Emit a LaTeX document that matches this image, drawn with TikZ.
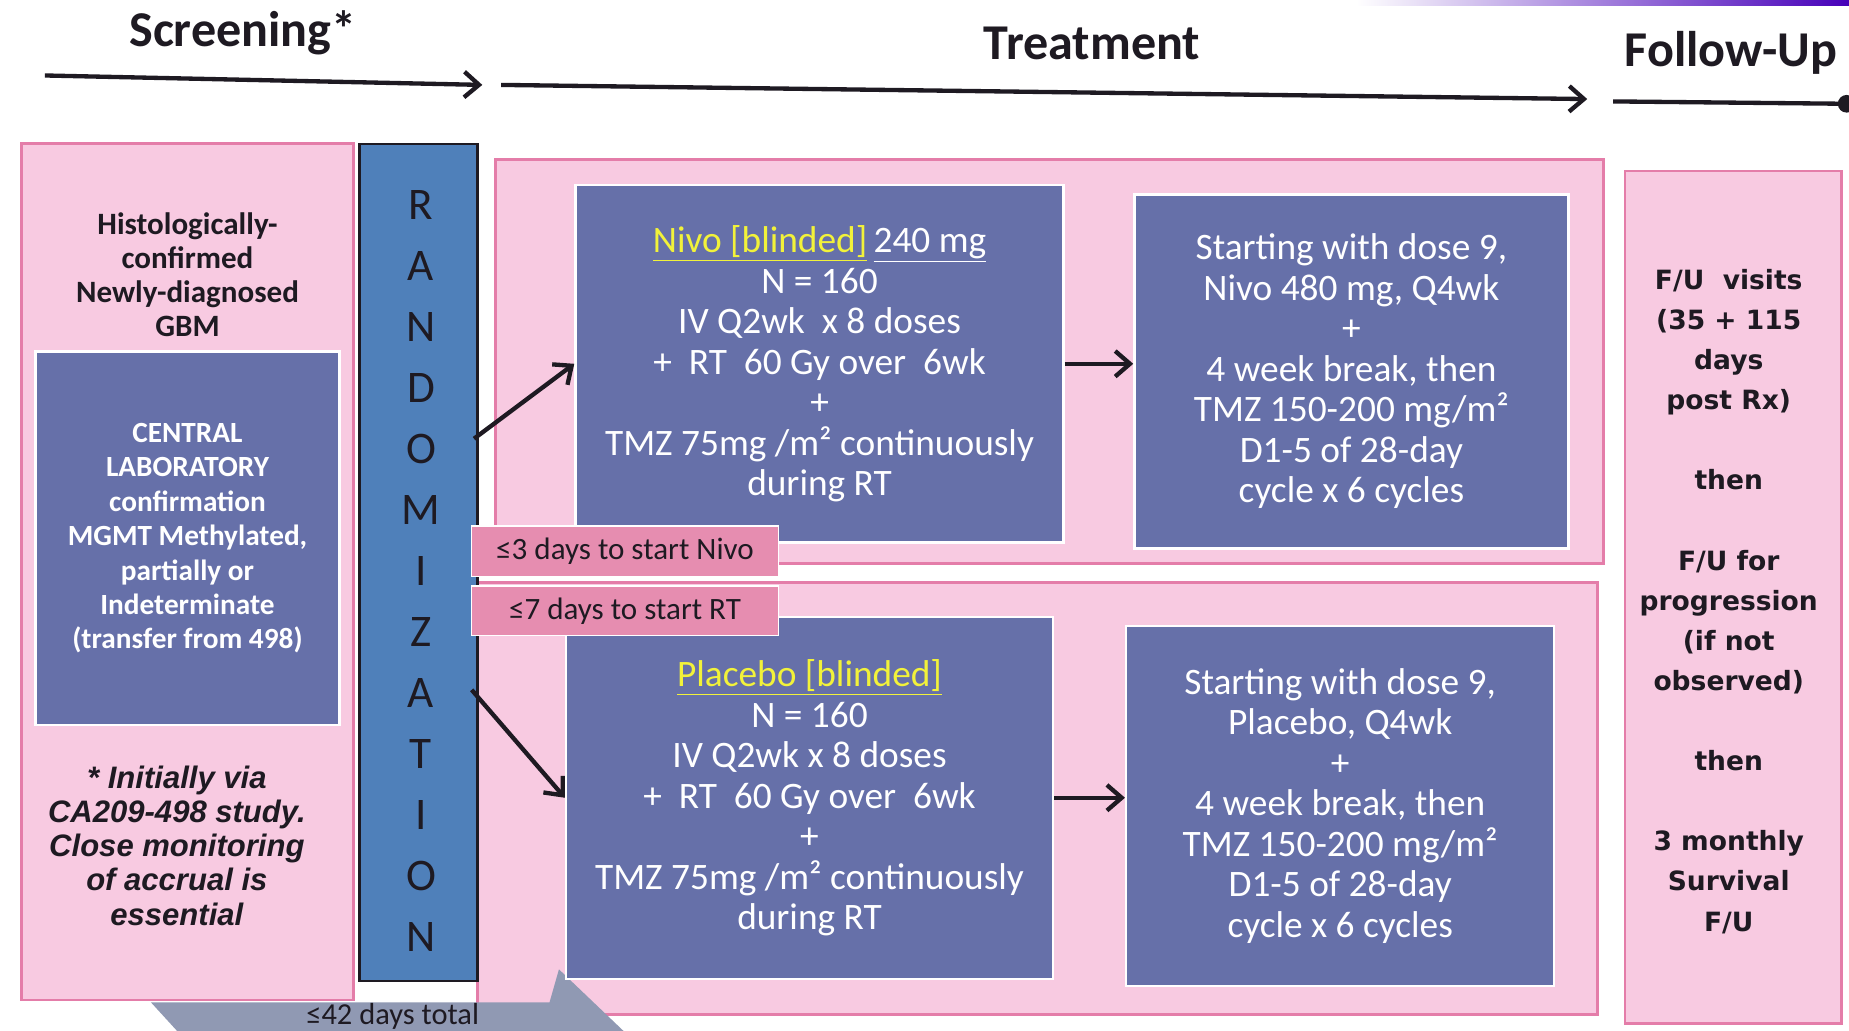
\documentclass[tikz,border=0pt]{standalone}
\usepackage{fontspec}
\setmainfont{Carlito}
\newfontfamily\fufont{DejaVu Sans}
\newfontfamily\notefont{Liberation Sans}
\usetikzlibrary{arrows.meta}
\definecolor{pinkfill}{HTML}{F8CAE1}
\definecolor{pinkline}{HTML}{E47DA9}
\definecolor{boxblue}{HTML}{6670A9}
\definecolor{randblue}{HTML}{4F80BA}
\definecolor{lblpink}{HTML}{E68DB0}
\definecolor{chevgray}{HTML}{9099B3}
\definecolor{ylw}{HTML}{F2F23A}
\definecolor{inkdark}{HTML}{1E1A22}
\begin{document}
\begin{tikzpicture}[x=0.6pt,y=-0.6pt,
  pinkbox/.style={draw=pinkline, fill=pinkfill, line width=1.5pt, rectangle, inner sep=0pt},
  bluebox/.style={draw=white, fill=boxblue, line width=1.2pt, rectangle, inner sep=0pt, text=white, align=center, font=\fontsize{19}{20.6}\selectfont},
  lbl/.style={draw=white, fill=lblpink, line width=0.8pt, rectangle, inner sep=0pt, text=inkdark, font=\fontsize{15.8}{18}\selectfont},
  ttl/.style={font=\bfseries\fontsize{25.5}{30}\selectfont, text=inkdark},
  arr/.style={-{Straight Barb[length=7.5pt,width=13pt,line width=2.2pt]}, line width=2.2pt, draw=inkdark},
]
\clip (0,0) rectangle (1568,874);
\fill[white] (0,0) rectangle (1568,874);
\shade[left color=white, right color=violet!55!blue] (1150,0) rectangle (1568,5);

% titles and timeline
\node[ttl] (tscr) at (206,28) {Screening*};
\node[ttl] (ttrt) at (926,37) {Treatment};
\node[ttl] (tfu) at (1468,45) {Follow-Up};
\coordinate (a1s) at (38,64);
\coordinate (a1e) at (409,72);
\coordinate (a2s) at (425,72);
\coordinate (a2e) at (1346,84);
\coordinate (a3s) at (1368,86);
\coordinate (a3e) at (1566,88);
\draw[arr] (a1s) -- (a1e);
\draw[arr] (a2s) -- (a2e);
\draw[line width=2.2pt, draw=inkdark] (a3s) -- (a3e);
\fill[inkdark] (a3e) circle (4.5pt);

% pink containers
\node[pinkbox, minimum width=169.2pt, minimum height=435.6pt] (scr) at (159,485) {};
\node[pinkbox, minimum width=564pt, minimum height=205.8pt] (trtA) at (890,306.5) {};
\node[pinkbox, minimum width=570pt, minimum height=219.6pt] (trtB) at (880,677) {};
\node[pinkbox, minimum width=110.4pt, minimum height=433.8pt] (fu) at (1470,506.5) {};

% bottom chevron
\fill[chevgray] (128,850) -- (466,850) -- (474,822) -- (540,885) -- (160,885) -- cycle;
\node[text=inkdark, font=\fontsize{15.5}{18}\selectfont] (days42) at (333,862) {≤42 days total};

% screening content
\node[align=center, text=inkdark, font=\bfseries\fontsize{15.8}{17.4}\selectfont] (hist) at (159,233)
  {Histologically-\\confirmed\\Newly-diagnosed\\GBM};
\node[bluebox, minimum width=154.8pt, minimum height=190.2pt, font=\bfseries\fontsize{14.9}{17.5}\selectfont] (lab) at (159,456.5)
  {CENTRAL\\LABORATORY\\confirmation\\MGMT Methylated,\\partially or\\Indeterminate\\(transfer from 498)};
\node[align=center, text=inkdark, font=\notefont\bfseries\itshape\fontsize{15.8}{17.4}\selectfont] (note) at (150,717)
  {* Initially via\\CA209-498 study.\\Close monitoring\\of accrual is\\essential};

% randomization bar
\node[draw=inkdark, fill=randblue, line width=1.2pt, rectangle, inner sep=0pt, minimum width=60pt, minimum height=426pt] (rand) at (355,477) {};
\node[align=center, text=inkdark, font=\fontsize{23}{31.05}\selectfont] (randtxt) at (357,484)
  {R\\A\\N\\D\\O\\M\\I\\Z\\A\\T\\I\\O\\N};

% treatment boxes
\node[bluebox, minimum width=248.4pt, minimum height=181.8pt] (nivo) at (695,308.5)
  {{\color{ylw}\underline{Nivo [blinded]}}\,\underline{240 mg}\\N = 160\\IV Q2wk~ x 8 doses\\+~ RT~ 60 Gy over~ 6wk\\+\\TMZ 75mg /m² continuously\\during RT};
\node[bluebox, minimum width=220.8pt, minimum height=180pt] (start1) at (1146,315)
  {Starting with dose 9,\\Nivo 480 mg, Q4wk\\+\\4 week break, then\\TMZ 150-200 mg/m²\\D1-5 of 28-day\\cycle x 6 cycles};
\node[bluebox, minimum width=247.8pt, minimum height=184.2pt] (plac) at (686.5,676.5)
  {{\color{ylw}\underline{Placebo [blinded]}}\\N = 160\\IV Q2wk x 8 doses\\+~ RT~ 60 Gy over~ 6wk\\+\\TMZ 75mg /m² continuously\\during RT};
\node[bluebox, minimum width=217.8pt, minimum height=183pt] (start2) at (1136.5,683.5)
  {Starting with dose 9,\\Placebo, Q4wk\\+\\4 week break, then\\TMZ 150-200 mg/m²\\D1-5 of 28-day\\cycle x 6 cycles};

% timing labels
\node[lbl, minimum width=156pt, minimum height=25.8pt] (lbl3) at (530,467.5) {≤3 days to start Nivo};
\node[lbl, minimum width=156pt, minimum height=25.2pt] (lbl7) at (530,518) {≤7 days to start RT};

% follow-up text
\node[align=center, text=inkdark, font=\fufont\bfseries\fontsize{13.5}{20.4}\selectfont] (futxt) at (1466,510)
  {F/U~ visits\\(35 + 115\\days\\post Rx)\\\mbox{}\\then\\\mbox{}\\F/U for\\progression\\(if not\\observed)\\\mbox{}\\then\\\mbox{}\\3 monthly\\Survival\\F/U};

% arrows
\coordinate (r1) at (402,372);
\coordinate (r2) at (400,585);
\draw[arr] (r1) -- (nivo.west);
\draw[arr] (r2) -- (plac.west);
\draw[arr] (nivo.east) -- (nivo.east -| start1.west);
\draw[arr] (plac.east) -- (plac.east -| start2.west);
\end{tikzpicture}
\end{document}
